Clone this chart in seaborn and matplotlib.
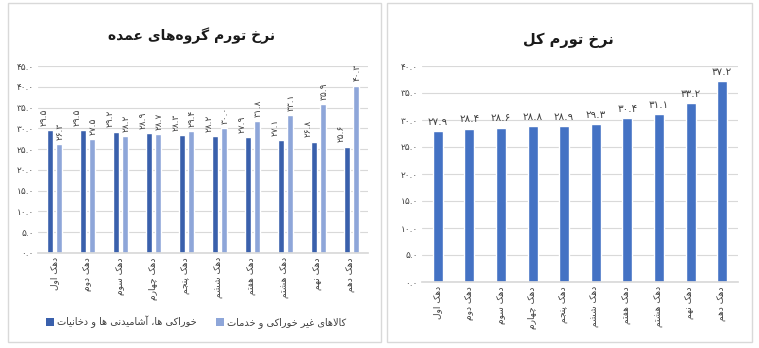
import matplotlib
matplotlib.use("Agg")
import matplotlib.pyplot as plt
from matplotlib.patches import Rectangle, Patch
import seaborn as sns
import pandas as pd

# ---------------- data ----------------
deciles = ["دهک اول", "دهک دوم", "دهک سوم", "دهک چهارم", "دهک پنجم",
           "دهک ششم", "دهک هفتم", "دهک هشتم", "دهک نهم", "دهک دهم"]
food = [29.5, 29.5, 29.2, 28.9, 28.3, 28.2, 27.9, 27.1, 26.8, 25.6]
nonfood = [26.3, 27.5, 28.2, 28.7, 29.4, 30.0, 31.8, 33.1, 35.9, 40.3]
total = [27.9, 28.4, 28.6, 28.8, 28.9, 29.3, 30.4, 31.1, 33.2, 37.2]
series_names = ["خوراکی ها، آشامیدنی ها و دخانیات", "کالاهای غیر خوراکی و خدمات"]
title_left = "نرخ تورم گروه‌های عمده"
title_right = "نرخ تورم کل"
yticks_left = [0, 5, 10, 15, 20, 25, 30, 35, 40, 45]
yticks_right = [0, 5, 10, 15, 20, 25, 30, 35, 40]

# ---------------- minimal Persian shaping ----------------
FORMS = {
    'ا': (0xFE8D, 0xFE8E, None, None), 'آ': (0xFE81, 0xFE82, None, None),
    'ب': (0xFE8F, 0xFE90, 0xFE91, 0xFE92), 'پ': (0xFB56, 0xFB57, 0xFB58, 0xFB59),
    'ت': (0xFE95, 0xFE96, 0xFE97, 0xFE98), 'ث': (0xFE99, 0xFE9A, 0xFE9B, 0xFE9C),
    'ج': (0xFE9D, 0xFE9E, 0xFE9F, 0xFEA0), 'چ': (0xFB7A, 0xFB7B, 0xFB7C, 0xFB7D),
    'ح': (0xFEA1, 0xFEA2, 0xFEA3, 0xFEA4), 'خ': (0xFEA5, 0xFEA6, 0xFEA7, 0xFEA8),
    'د': (0xFEA9, 0xFEAA, None, None), 'ذ': (0xFEAB, 0xFEAC, None, None),
    'ر': (0xFEAD, 0xFEAE, None, None), 'ز': (0xFEAF, 0xFEB0, None, None),
    'ژ': (0xFB8A, 0xFB8B, None, None),
    'س': (0xFEB1, 0xFEB2, 0xFEB3, 0xFEB4), 'ش': (0xFEB5, 0xFEB6, 0xFEB7, 0xFEB8),
    'ص': (0xFEB9, 0xFEBA, 0xFEBB, 0xFEBC), 'ض': (0xFEBD, 0xFEBE, 0xFEBF, 0xFEC0),
    'ط': (0xFEC1, 0xFEC2, 0xFEC3, 0xFEC4), 'ظ': (0xFEC5, 0xFEC6, 0xFEC7, 0xFEC8),
    'ع': (0xFEC9, 0xFECA, 0xFECB, 0xFECC), 'غ': (0xFECD, 0xFECE, 0xFECF, 0xFED0),
    'ف': (0xFED1, 0xFED2, 0xFED3, 0xFED4), 'ق': (0xFED5, 0xFED6, 0xFED7, 0xFED8),
    'ک': (0xFB8E, 0xFB8F, 0xFB90, 0xFB91), 'گ': (0xFB92, 0xFB93, 0xFB94, 0xFB95),
    'ل': (0xFEDD, 0xFEDE, 0xFEDF, 0xFEE0), 'م': (0xFEE1, 0xFEE2, 0xFEE3, 0xFEE4),
    'ن': (0xFEE5, 0xFEE6, 0xFEE7, 0xFEE8), 'و': (0xFEED, 0xFEEE, None, None),
    'ه': (0xFEE9, 0xFEEA, 0xFEEB, 0xFEEC), 'ی': (0xFBFC, 0xFBFD, 0xFBFE, 0xFBFF),
}


def shape(text):
    chars = list(text)
    n = len(chars)
    out = []
    i = 0
    while i < n:
        c = chars[i]
        if c not in FORMS:
            if c != '\u200c':
                out.append(c)
            i += 1
            continue
        prev = chars[i - 1] if i > 0 else None
        nxt = chars[i + 1] if i + 1 < n else None
        cp = prev is not None and prev in FORMS and FORMS[prev][2] is not None
        if c == 'ل' and nxt in ('ا', 'آ'):
            if nxt == 'ا':
                out.append(chr(0xFEFC if cp else 0xFEFB))
            else:
                out.append(chr(0xFEF6 if cp else 0xFEF5))
            i += 2
            continue
        cn = nxt is not None and nxt in FORMS and FORMS[c][2] is not None
        iso, fin, ini, med = FORMS[c]
        if cp and cn:
            g = med
        elif cp:
            g = fin
        elif cn:
            g = ini
        else:
            g = iso
        out.append(chr(g))
        i += 1
    return ''.join(reversed(out))


FA = str.maketrans('0123456789', '۰۱۲۳۴۵۶۷۸۹')


def fa_num(v):
    return f"{v:.1f}".translate(FA)


# ---------------- style ----------------
sns.set_theme(style="white")
plt.rcParams['font.family'] = ['DejaVu Sans']
TXT = '#404040'
GRID = '#D9D9D9'
DARK = '#3A60AC'
LIGHT = '#8EA6D9'
MID = '#4472C4'

fig = plt.figure(figsize=(7.59, 3.48), dpi=100)
W, H = 759, 348


def fx(px):
    return px / W


def fy(py):
    return 1 - py / H


# panel borders
for x0, x1 in [(8, 381), (387, 752)]:
    fig.patches.append(Rectangle((fx(x0), fy(342)), fx(x1) - fx(x0), fy(3) - fy(342),
                                 transform=fig.transFigure, fill=False,
                                 edgecolor=GRID, linewidth=1.0))

# ---------------- left panel ----------------
axL = fig.add_axes([fx(38), fy(253), fx(368) - fx(38), fy(66) - fy(253)])
df = pd.DataFrame({
    'decile': deciles * 2,
    'value': food + nonfood,
    'group': [series_names[0]] * 10 + [series_names[1]] * 10,
})
sns.barplot(data=df, x='decile', y='value', hue='group', order=deciles,
            hue_order=series_names, palette=[DARK, LIGHT], width=0.6, gap=0.4,
            ax=axL, legend=False, saturation=1, err_kws={'linewidth': 0})
axL.set_ylim(0, 45)
axL.set_xlim(-0.5, 9.5)
axL.set_yticks(yticks_left)
axL.set_yticklabels([fa_num(v) for v in yticks_left], fontsize=6.5, color=TXT)
axL.set_xticks(range(len(deciles)))
axL.set_xticklabels([shape(d) for d in deciles], rotation=90, fontsize=6.5, color=TXT)
axL.set_xlabel('')
axL.set_ylabel('')
axL.yaxis.grid(True, color=GRID, linewidth=0.8)
axL.set_axisbelow(True)
for s in ['top', 'right', 'left']:
    axL.spines[s].set_visible(False)
axL.spines['bottom'].set_color(GRID)
axL.tick_params(axis='both', length=0, pad=3)

for ci, (cont, vals) in enumerate(zip(axL.containers, [food, nonfood])):
    dx = -5 if ci == 0 else 1
    for bar, v in zip(cont, vals):
        xc = bar.get_x() + bar.get_width() / 2
        axL.annotate(fa_num(v), (xc, bar.get_height()), xytext=(dx * 0.72, 3),
                     textcoords='offset points', rotation=90, ha='center', va='bottom',
                     fontsize=6.5, color=TXT)

fig.text(fx(192), fy(36), shape(title_left), ha='center', va='center',
         fontsize=10, fontweight='bold', color='#1a1a1a')

handles = [Patch(facecolor=DARK, edgecolor='none'), Patch(facecolor=LIGHT, edgecolor='none')]
fig.legend(handles, [shape(s) for s in series_names], loc='center',
           bbox_to_anchor=(fx(196), fy(322)), ncol=2, frameon=False, fontsize=7,
           handlelength=0.8, handleheight=0.8, handletextpad=0.3, columnspacing=2.0,
           labelcolor=TXT)

# ---------------- right panel ----------------
axR = fig.add_axes([fx(422), fy(282), fx(738) - fx(422), fy(66) - fy(282)])
dfr = pd.DataFrame({'decile': deciles, 'value': total})
sns.barplot(data=dfr, x='decile', y='value', order=deciles, color=MID, width=0.32,
            ax=axR, saturation=1, err_kws={'linewidth': 0})
axR.set_ylim(0, 40)
axR.set_xlim(-0.5, 9.5)
axR.set_yticks(yticks_right)
axR.set_yticklabels([fa_num(v) for v in yticks_right], fontsize=6.5, color=TXT)
axR.set_xticks(range(len(deciles)))
axR.set_xticklabels([shape(d) for d in deciles], rotation=90, fontsize=6.5, color=TXT)
axR.set_xlabel('')
axR.set_ylabel('')
axR.yaxis.grid(True, color=GRID, linewidth=0.8)
axR.set_axisbelow(True)
for s in ['top', 'right', 'left']:
    axR.spines[s].set_visible(False)
axR.spines['bottom'].set_color(GRID)
axR.tick_params(axis='both', length=0, pad=3)
axR.bar_label(axR.containers[0], labels=[fa_num(v) for v in total], padding=3,
              fontsize=7.5, color=TXT)

fig.text(fx(568), fy(40), shape(title_right), ha='center', va='center',
         fontsize=10.5, fontweight='bold', color='#1a1a1a')

fig.savefig('out.png', dpi=100)
